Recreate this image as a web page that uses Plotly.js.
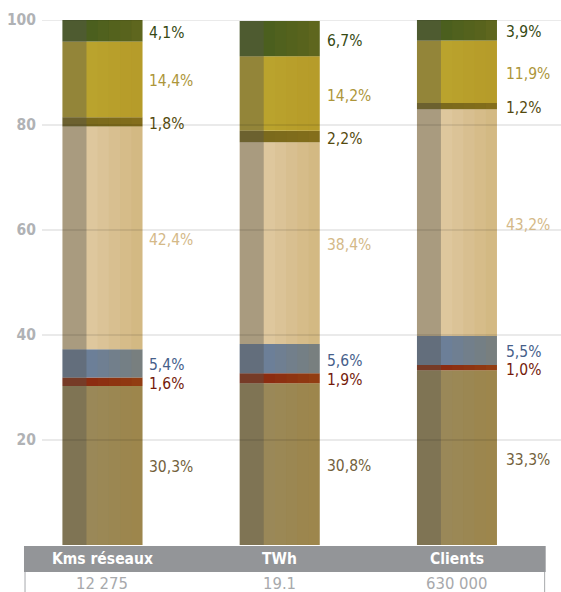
<!DOCTYPE html>
<html>
<head>
<meta charset="utf-8">
<script src="https://cdn.plot.ly/plotly-3.0.1.min.js"></script>
<style>html,body{margin:0;padding:0;background:#fff;}#chart{width:561px;height:592px;}</style>
</head>
<body>
<div id="chart"></div>
<script>
const categories = ['Kms réseaux', 'TWh', 'Clients'];
const categoryTotals = ['12 275', '19.1', '630 000'];
const yTicks = [20, 40, 60, 80, 100];

// series stacked from bottom to top
const brownSeries  = [30.3, 30.8, 33.3];
const redSeries    = [1.6, 1.9, 1.0];
const blueSeries   = [5.4, 5.6, 5.5];
const beigeSeries  = [42.4, 38.4, 43.2];
const oliveSeries  = [1.8, 2.2, 1.2];
const yellowSeries = [14.4, 14.2, 11.9];
const greenSeries  = [4.1, 6.7, 3.9];

const seriesList = [brownSeries, redSeries, blueSeries, beigeSeries, oliveSeries, yellowSeries, greenSeries];
const fillColors = ['#9a8858', '#8c2c10', '#6c7f98', '#dec79d', '#7b6a1c', '#baa32d', '#4b5f1e'];
const labelColors = ['#735f3c', '#741a0a', '#46608a', '#d4b988', '#544a0e', '#ad963a', '#364913'];

const FONT = "'Liberation Sans Narrow', 'DejaVu Sans Condensed', 'Roboto Condensed', 'Arial Narrow', sans-serif";
const BAR_W = 0.4513;
const STRIP_W = 0.1354;
const MARGIN = {l: 42, r: 0, t: 20, b: 47, pad: 0};
const H = 592;
const PX_PER_UNIT = (H - MARGIN.t - MARGIN.b) / 100;
const MIN_GAP_PX = 18;

const traces = [];
const annotations = [];
const cum = categories.map(() => 0);
const labelShift = [5, 5, 7];
const labelInfo = categories.map(() => []);

seriesList.forEach((vals, i) => {
  const bases = cum.slice();
  traces.push({
    type: 'bar', x: categories, y: vals, base: bases, width: BAR_W,
    marker: {color: fillColors[i], line: {width: 0}},
    hoverinfo: 'skip', showlegend: false
  });
  vals.forEach((v, j) => {
    labelInfo[j].push({series: i, v: v, mid: bases[j] + v / 2, shift: 0});
    cum[j] += v;
  });
});

// keep adjacent labels from colliding: push pairs apart symmetrically
labelInfo.forEach((list, j) => {
  for (let k = 1; k < list.length; k++) {
    const a = list[k - 1], b = list[k];
    const gap = (b.mid - a.mid) * PX_PER_UNIT + b.shift - a.shift;
    if (gap < MIN_GAP_PX) {
      const d = (MIN_GAP_PX - gap) / 2;
      a.shift -= d; b.shift += d;
    }
  }
  list.forEach(l => {
    annotations.push({
      x: j + BAR_W / 2, y: l.mid, xref: 'x', yref: 'y',
      xanchor: 'left', yanchor: 'middle', xshift: labelShift[j], yshift: l.shift - 2,
      showarrow: false,
      text: l.v.toFixed(1).replace('.', ',') + '%',
      font: {family: FONT, size: 15.5, color: labelColors[l.series]}
    });
  });
});

const totalsY = cum.slice();
// darker left strip
traces.push({
  type: 'bar', x: categories, y: totalsY, base: categories.map(() => 0),
  width: STRIP_W, offset: -BAR_W / 2,
  marker: {color: 'rgba(85,85,80,0.38)', line: {width: 0}},
  hoverinfo: 'skip', showlegend: false
});
// subtle gradient on the right part
const gradSteps = [0.0, 0.05, 0.1, 0.15, 0.2];
const gradW = (BAR_W - STRIP_W) / gradSteps.length;
gradSteps.forEach((a, k) => {
  if (a === 0) return;
  traces.push({
    type: 'bar', x: categories, y: totalsY, base: categories.map(() => 0),
    width: gradW, offset: -BAR_W / 2 + STRIP_W + k * gradW,
    marker: {color: 'rgba(170,130,30,' + a + ')', line: {width: 0}},
    hoverinfo: 'skip', showlegend: false
  });
});

const shapes = [];
yTicks.forEach(t => {
  shapes.push({type: 'line', xref: 'paper', yref: 'y', x0: 0, x1: 1, y0: t, y1: t,
    layer: 'above', line: {color: 'rgba(0,0,0,0.11)', width: 1.5}});
});
// bottom band
shapes.push({type: 'rect', xref: 'paper', yref: 'paper', x0: -0.0347, x1: 0.9705, y0: -0.0514, y1: -0.0019,
  layer: 'below', fillcolor: '#939598', line: {width: 0}});
shapes.push({type: 'line', xref: 'paper', yref: 'paper', x0: -0.0327, x1: -0.0327, y0: -0.0514, y1: -0.1,
  layer: 'below', line: {color: '#a7a9ac', width: 1}});
shapes.push({type: 'line', xref: 'paper', yref: 'paper', x0: 0.9685, x1: 0.9685, y0: -0.0514, y1: -0.1,
  layer: 'below', line: {color: '#a7a9ac', width: 1}});

categories.forEach((c, j) => {
  annotations.push({x: j, y: -0.027, xref: 'x', yref: 'paper', xanchor: 'center', yanchor: 'middle',
    showarrow: false, text: '<b>' + c + '</b>', font: {family: FONT, size: 15.5, color: '#ffffff'}});
  annotations.push({x: j, y: -0.074, xref: 'x', yref: 'paper', xanchor: 'center', yanchor: 'middle',
    showarrow: false, text: categoryTotals[j], font: {family: FONT, size: 16.5, color: '#a7a9ac'}});
});

const layout = {
  width: 561, height: H,
  margin: MARGIN,
  paper_bgcolor: '#ffffff', plot_bgcolor: '#ffffff',
  barmode: 'overlay',
  xaxis: {type: 'category', range: [-0.3413, 2.587], showticklabels: false, showgrid: false,
    zeroline: false, showline: false, ticks: '', fixedrange: true},
  yaxis: {range: [0, 100], tickvals: yTicks, ticktext: yTicks.map(String), showgrid: false,
    zeroline: false, showline: false, ticks: '', ticklabelstandoff: 5,
    tickfont: {family: FONT, size: 15.5, color: '#b0b2b5', weight: 'bold'}, fixedrange: true},
  shapes: shapes,
  annotations: annotations,
  showlegend: false
};

Plotly.newPlot('chart', traces, layout, {displayModeBar: false, staticPlot: true});
</script>
</body>
</html>
